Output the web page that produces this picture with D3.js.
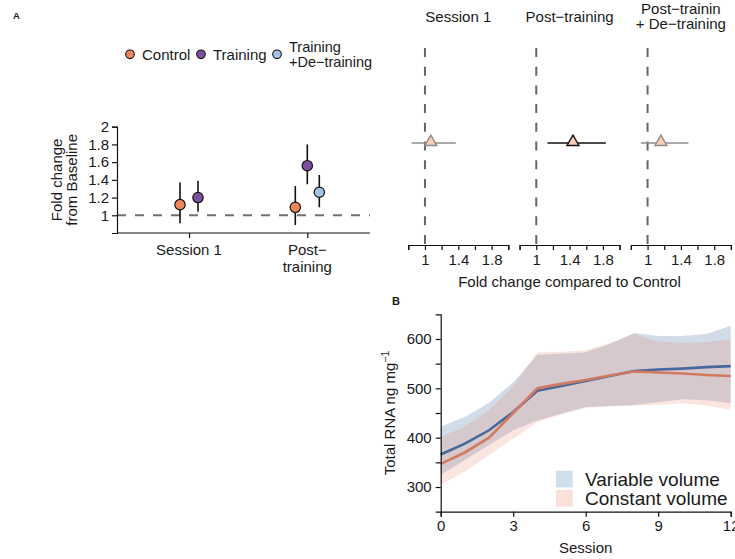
<!DOCTYPE html>
<html>
<head>
<meta charset="utf-8">
<script src="https://cdn.jsdelivr.net/npm/d3@7"></script>
<style>
  html, body { margin: 0; padding: 0; background: #fff; }
  svg { display: block; font-family: "Liberation Sans", Arial, Helvetica, sans-serif; overflow: visible; }
  text { fill: #1a1a1a; }
</style>
</head>
<body>
<svg id="fig" width="735" height="559"></svg>
<script>
// ---------- Panel A (left): fold change from baseline ----------
const sessionsA = ["Session 1", "Post-training"];
const groupsA = ["Control", "Training", "Training +De-training"];
const groupColors = ["#f0875c", "#7d4f9f", "#a3c2e3"];
const controlFold = [1.12, 1.09];
const controlLo = [0.91, 0.89];
const controlHi = [1.37, 1.33];
const trainingFold = [1.20, 1.56];
const trainingLo = [1.04, 1.35];
const trainingHi = [1.39, 1.80];
const detrainFold = [null, 1.26];
const detrainLo = [null, 1.09];
const detrainHi = [null, 1.455];
const foldTicks = [1, 1.2, 1.4, 1.6, 1.8, 2];

// ---------- Panel A (right): fold change compared to control ----------
const forestTitles = [["Session 1"], ["Post\u2212training"], ["Post\u2212trainin", "+ De\u2212training"]];
const forestEst = [1.07, 1.44, 1.16];
const forestLo = [0.84, 1.135, 0.92];
const forestHi = [1.37, 1.835, 1.49];
const forestSignif = [false, true, false];
const forestTicks = [0.8, 1, 1.2, 1.4, 1.6, 1.8, 2];
const forestLabels = [1, 1.4, 1.8];

// ---------- Panel B: total RNA over sessions ----------
const sessionsB = [0, 1, 2, 3, 4, 5, 6, 7, 8, 9, 10, 11, 12];
const variableMean = [366, 388, 415, 452, 495, 505, 515, 525, 535, 538, 540, 543, 545];
const variableLo   = [325, 355, 385, 415, 435, 449, 462, 464, 466, 472, 478, 476, 470];
const variableHi   = [422, 442, 471, 512, 568, 570, 573, 590, 612, 606, 606, 610, 627];
const constantMean = [347, 370, 400, 450, 500, 509, 517, 526, 534, 532, 530, 527, 525];
const constantLo   = [305, 331, 365, 398, 432, 447, 460, 463, 465, 466, 470, 465, 456];
const constantHi   = [402, 422, 456, 503, 573, 574, 577, 592, 610, 595, 592, 594, 600];
const rnaTicks = [300, 400, 500, 600];
const rnaMinorTicks = [300, 350, 400, 450, 500, 550, 600];
const sessionTicks = [0, 3, 6, 9, 12];

const svg = d3.select("#fig");
const FS = 15;

function styleAxis(g) {
  g.selectAll(".domain").attr("stroke", "#111").attr("stroke-width", 1.2);
  g.selectAll(".tick line").attr("stroke", "#111").attr("stroke-width", 1.2);
  g.selectAll(".tick text").attr("font-size", FS).attr("fill", "#1a1a1a")
    .attr("font-family", "Liberation Sans, Arial, sans-serif");
}

// Panel letters
svg.append("text").attr("x", 13).attr("y", 18.5).attr("font-size", 9.5).attr("font-weight", "bold").text("A");
svg.append("text").attr("x", 392).attr("y", 305).attr("font-size", 11).attr("font-weight", "bold").text("B");

// ===== Panel A left =====
const xA = d3.scalePoint().domain(sessionsA).range([117, 379.3]).padding(0.6087);
const yA = d3.scaleLinear().domain([0.8, 2]).range([233, 126.7]);
const dodgeW = 36;

const gA = svg.append("g");

// Reference line at no change
gA.append("line")
  .attr("x1", xA.range()[0]).attr("x2", 370)
  .attr("y1", yA(1)).attr("y2", yA(1))
  .attr("stroke", "#707070").attr("stroke-width", 2).attr("stroke-dasharray", "9,9");

const yAxisA = gA.append("g").attr("transform", `translate(${xA.range()[0]},0)`)
  .call(d3.axisLeft(yA).tickValues(foldTicks).tickSizeOuter(0).tickSize(5).tickPadding(3)
    .tickFormat(d => String(+d.toFixed(1))));
styleAxis(yAxisA);

const xAxisA = gA.append("g").attr("transform", `translate(0,${yA.range()[0]})`)
  .call(d3.axisBottom(xA).tickSizeOuter(0).tickSize(5).tickFormat(""));
styleAxis(xAxisA);
xAxisA.select(".domain").attr("d", `M${xA.range()[0]},0H370`);

// Category labels (Post-training wraps onto two lines)
const catLines = [["Session 1"], ["Post\u2212", "training"]];
sessionsA.forEach((s, i) => {
  const t = gA.append("text").attr("text-anchor", "middle").attr("font-size", FS)
    .attr("x", xA(s)).attr("y", yA.range()[0] + 22);
  catLines[i].forEach((ln, j) => t.append("tspan").attr("x", xA(s)).attr("dy", j === 0 ? 0 : 16.5).text(ln));
});

// Y title
const yTitleA = gA.append("text").attr("text-anchor", "middle").attr("font-size", FS)
  .attr("transform", `translate(62,${(yA.range()[0] + yA.range()[1]) / 2}) rotate(-90)`);
yTitleA.append("tspan").attr("x", 0).attr("dy", 0).text("Fold change");
yTitleA.append("tspan").attr("x", 0).attr("dy", 15).text("from Baseline");

// Build point rows
const seriesA = [
  { mean: controlFold, lo: controlLo, hi: controlHi },
  { mean: trainingFold, lo: trainingLo, hi: trainingHi },
  { mean: detrainFold, lo: detrainLo, hi: detrainHi }
];
const pointsA = [];
sessionsA.forEach((s, si) => {
  const present = seriesA.map((ser, gi) => ({ ser, gi })).filter(o => o.ser.mean[si] != null);
  const n = present.length;
  present.forEach((o, k) => {
    const off = -dodgeW / 2 + dodgeW / n * (k + 0.5);
    pointsA.push({ x: xA(s) + off, m: o.ser.mean[si], lo: o.ser.lo[si], hi: o.ser.hi[si], color: groupColors[o.gi] });
  });
});
gA.selectAll("line.err").data(pointsA).join("line").attr("class", "err")
  .attr("x1", d => d.x).attr("x2", d => d.x)
  .attr("y1", d => yA(d.lo)).attr("y2", d => yA(d.hi))
  .attr("stroke", "#111").attr("stroke-width", 1.6);
gA.selectAll("circle.pt").data(pointsA).join("circle").attr("class", "pt")
  .attr("cx", d => d.x).attr("cy", d => yA(d.m)).attr("r", 5.2)
  .attr("fill", d => d.color).attr("stroke", "#111").attr("stroke-width", 1.2);

// Legend
const legA = svg.append("g");
const legX = [130, 201, 277];
groupsA.forEach((g, i) => {
  legA.append("circle").attr("cx", legX[i]).attr("cy", 54.3).attr("r", 4.3)
    .attr("fill", groupColors[i]).attr("stroke", "#111").attr("stroke-width", 1.1);
  const t = legA.append("text").attr("font-size", FS).attr("x", legX[i] + 12);
  if (i < 2) {
    t.attr("y", 59.5).text(g);
  } else {
    t.attr("y", 52).attr("font-size", 14.5);
    t.append("tspan").attr("x", legX[i] + 12).text("Training");
    t.append("tspan").attr("x", legX[i] + 12).attr("dy", 15).text("+De\u2212training");
  }
});

// ===== Panel A right: forest panels =====
const forestLeft = [408.3, 519.6, 630.9];
const forestWidth = 100;
const yF = d3.scalePoint().domain(["RNA"]).range([41, 245]).padding(0.5);
const triangle = d3.symbol().type(d3.symbolTriangle).size(62);

forestTitles.forEach((title, i) => {
  const x = d3.scaleLinear().domain([0.8, 2]).range([forestLeft[i], forestLeft[i] + forestWidth]);
  const g = svg.append("g");
  const col = forestSignif[i] ? "#111" : "#8c8c8c";

  g.append("line").attr("x1", x(1)).attr("x2", x(1)).attr("y1", 48).attr("y2", yF.range()[1])
    .attr("stroke", "#666").attr("stroke-width", 2).attr("stroke-dasharray", "9,9.7");

  const ax = g.append("g").attr("transform", `translate(0,${yF.range()[1]})`)
    .call(d3.axisBottom(x).tickValues(forestTicks).tickSizeOuter(0).tickSize(5).tickPadding(4)
      .tickFormat(d => forestLabels.some(v => Math.abs(v - d) < 1e-9) ? String(d) : ""));
  styleAxis(ax);

  g.append("line").attr("x1", x(forestLo[i])).attr("x2", x(forestHi[i]))
    .attr("y1", yF("RNA")).attr("y2", yF("RNA")).attr("stroke", col).attr("stroke-width", 1.5);
  g.append("path").attr("d", triangle)
    .attr("transform", `translate(${x(forestEst[i])},${yF("RNA") - 1})`)
    .attr("fill", "#f9ceb5").attr("stroke", col).attr("stroke-width", 1.4);

  const cx = forestLeft[i] + forestWidth / 2;
  const t = g.append("text").attr("text-anchor", "middle").attr("font-size", FS);
  if (title.length === 1) {
    t.attr("y", 21.5).append("tspan").attr("x", cx).text(title[0]);
  } else {
    t.attr("y", 13.5);
    t.append("tspan").attr("x", cx).text(title[0]);
    t.append("tspan").attr("x", cx).attr("dy", 15.5).text(title[1]);
  }
});
svg.append("text").attr("text-anchor", "middle").attr("font-size", FS)
  .attr("x", 569.5).attr("y", 287).text("Fold change compared to Control");

// ===== Panel B =====
const xB = d3.scaleLinear().domain([0, 12]).range([440.7, 730.7]);
const yB = d3.scaleLinear().domain([250, 650]).range([511.7, 314.3]);
const gB = svg.append("g");

const seriesB = [
  { name: "Variable volume", mean: variableMean, lo: variableLo, hi: variableHi, line: "#46689c", fill: "rgba(74,111,165,0.25)", key: "#d1deec" },
  { name: "Constant volume", mean: constantMean, lo: constantLo, hi: constantHi, line: "#d27a5f", fill: "rgba(232,130,100,0.2)", key: "#f9e1d9" }
];
const area = d3.area().x(d => xB(d.s)).y0(d => yB(d.lo)).y1(d => yB(d.hi));
const line = d3.line().x(d => xB(d.s)).y(d => yB(d.m));

seriesB.forEach(ser => {
  const rows = sessionsB.map((s, i) => ({ s, m: ser.mean[i], lo: ser.lo[i], hi: ser.hi[i] }));
  gB.append("path").datum(rows).attr("d", area).attr("fill", ser.fill);
});
seriesB.forEach(ser => {
  const rows = sessionsB.map((s, i) => ({ s, m: ser.mean[i] }));
  gB.append("path").datum(rows).attr("d", line).attr("fill", "none")
    .attr("stroke", ser.line).attr("stroke-width", 2.6);
});

const yAxisB = gB.append("g").attr("transform", `translate(${xB.range()[0]},0)`)
  .call(d3.axisLeft(yB).tickValues(rnaMinorTicks).tickSizeOuter(0).tickSize(5).tickPadding(4)
    .tickFormat(d => rnaTicks.includes(d) ? String(d) : ""));
styleAxis(yAxisB);
const xAxisB = gB.append("g").attr("transform", `translate(0,${yB.range()[0]})`)
  .call(d3.axisBottom(xB).tickValues(sessionTicks).tickSizeOuter(0).tickSize(5).tickPadding(4));
styleAxis(xAxisB);

gB.append("text").attr("text-anchor", "middle").attr("font-size", FS)
  .attr("x", 585.7).attr("y", 553).text("Session");

const yTitleB = gB.append("text").attr("text-anchor", "middle").attr("font-size", FS)
  .attr("transform", `translate(395,${(yB.range()[0] + yB.range()[1]) / 2}) rotate(-90)`);
yTitleB.append("tspan").text("Total RNA ng mg");
yTitleB.append("tspan").attr("font-size", 10.5).attr("dy", -6).text("\u22121");

// Legend B
seriesB.forEach((ser, i) => {
  gB.append("rect").attr("x", 556).attr("y", 470.7 + i * 19.3).attr("width", 16.7).attr("height", 16.7)
    .attr("fill", ser.key);
  gB.append("text").attr("x", 585).attr("y", 485.5 + i * 19.3).attr("font-size", 19).text(ser.name);
});
</script>
</body>
</html>
